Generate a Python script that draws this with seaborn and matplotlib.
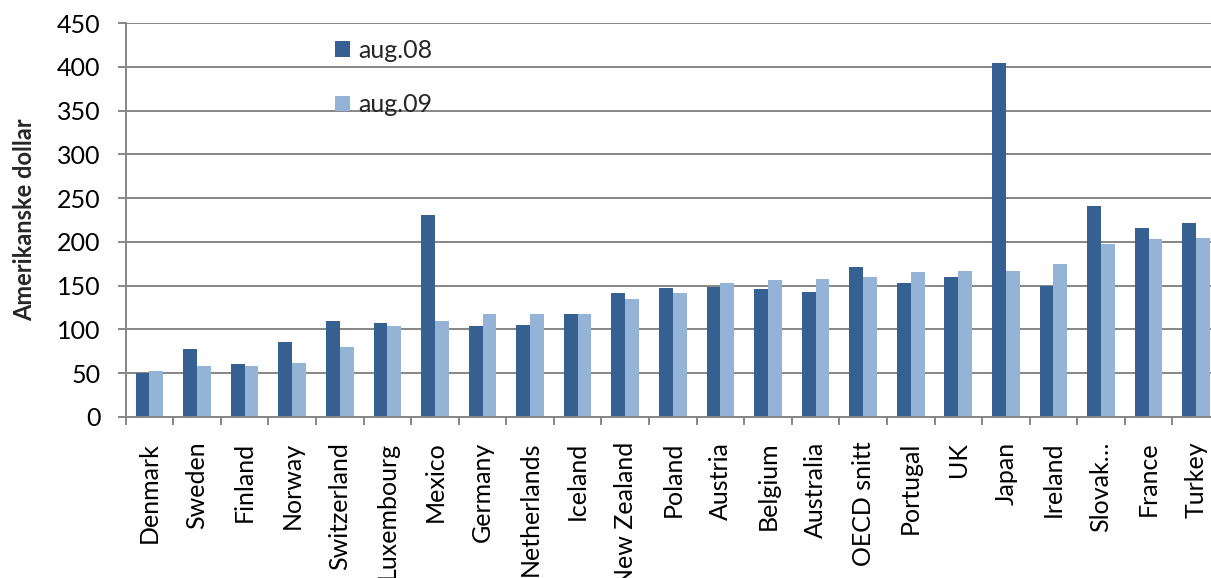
import matplotlib
matplotlib.use("Agg")
import numpy as np
import pandas as pd
import matplotlib.pyplot as plt
from matplotlib.ticker import FixedLocator
import seaborn as sns

countries = ['Denmark', 'Sweden', 'Finland', 'Norway', 'Switzerland', 'Luxembourg',
             'Mexico', 'Germany', 'Netherlands', 'Iceland', 'New Zealand', 'Poland',
             'Austria', 'Belgium', 'Australia', 'OECD snitt', 'Portugal', 'UK',
             'Japan', 'Ireland', 'Slovak…', 'France', 'Turkey']
aug08 = [50, 77, 60, 86, 110, 107, 231, 104, 105, 117, 141, 147,
         148, 146, 143, 171, 153, 160, 404, 150, 241, 216, 222]
aug09 = [52, 58, 58, 62, 80, 104, 109, 117, 118, 118, 135, 142,
         153, 156, 158, 160, 166, 167, 167, 175, 198, 203, 204]
periods = ['aug.08', 'aug.09']
colors = ['#376092', '#95B3D7']
yticks = list(range(0, 451, 50))

df = pd.DataFrame({
    'country': countries * 2,
    'period': [periods[0]] * len(countries) + [periods[1]] * len(countries),
    'value': aug08 + aug09,
})

sns.set_theme(style='white')
plt.rcParams['font.family'] = ['Lato', 'DejaVu Sans']

grid_col = '#868686'
fig = plt.figure(figsize=(12.11, 5.78), dpi=100)
# plot area runs past the right edge, as in the cropped original
ax = fig.add_axes([0.1038, 0.279, 0.9036, 0.681])

sns.barplot(data=df, x='country', y='value', hue='period', palette=colors,
            width=0.58, linewidth=0, errorbar=None, saturation=1, ax=ax)

ax.set_ylim(0, 450)
ax.set_xlim(-0.5, len(countries) - 0.5)
ax.set_yticks(yticks)
ax.yaxis.grid(True, color=grid_col, linewidth=1.4)
ax.set_axisbelow(True)

for side in ['top', 'right']:
    ax.spines[side].set_visible(False)
for side in ['left', 'bottom']:
    ax.spines[side].set_color(grid_col)
    ax.spines[side].set_linewidth(1.4)

ax.tick_params(axis='y', which='major', left=True, length=6, width=1.4,
               color=grid_col, pad=12, labelsize=18, labelcolor='black')
ax.tick_params(axis='x', which='major', bottom=False, length=0, pad=18,
               labelsize=18, labelcolor='black')
ax.xaxis.set_minor_locator(FixedLocator(np.arange(-0.5, len(countries), 1)))
ax.tick_params(axis='x', which='minor', bottom=True, length=6, width=1.4,
               color=grid_col)
plt.setp(ax.get_xticklabels(), rotation=90)

ax.set_xlabel('')
ax.set_ylabel('Amerikanske dollar', fontsize=17, fontweight='bold', labelpad=15)

ax.legend(loc='upper left', bbox_to_anchor=(0.182, 0.985), frameon=False,
          fontsize=18, handlelength=0.6, handleheight=0.6, handletextpad=0.35,
          labelspacing=1.25, borderaxespad=0)

fig.savefig('out.png', dpi=100)
